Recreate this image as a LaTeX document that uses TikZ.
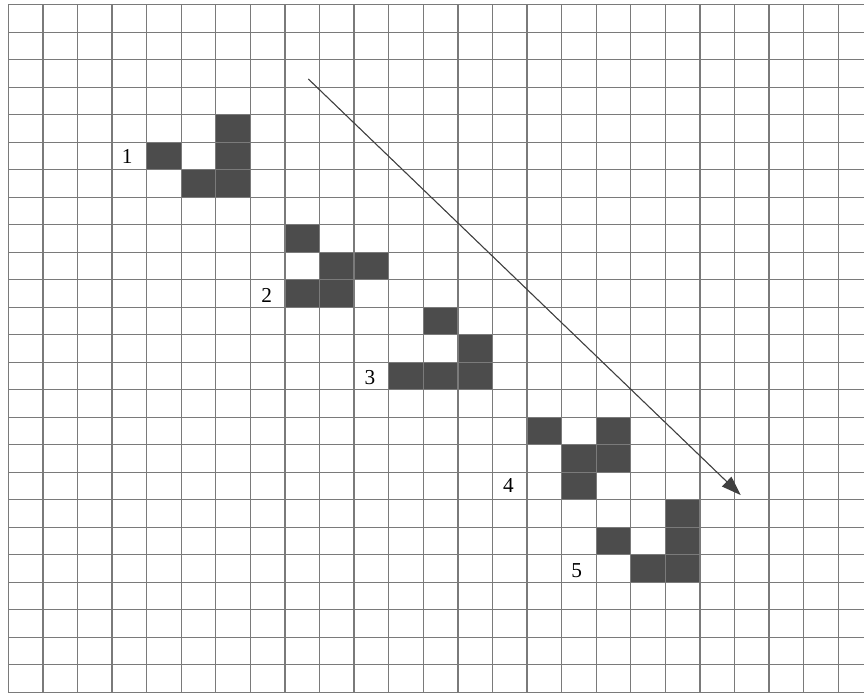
\documentclass[tikz,border=0pt]{standalone}
\usepackage{fontspec}
\setmainfont{Liberation Serif}
\usepackage{tikz}
\usetikzlibrary{arrows.meta}

\begin{document}
\begin{tikzpicture}[x=1cm, y=-0.7953cm,
    gridline/.style={line width=1.1pt, draw=black!52},
    alive/.style={fill=black!70},
    lbl/.style={font=\fontsize{17.5}{17.5}\selectfont, inner sep=0pt},
    arr/.style={-{Triangle[length=16pt, width=11pt]}, line width=0.9pt, draw=black!75, fill=black!75}
  ]
    \clip (-0.24,-0.171) rectangle (24.745,24.993);
    % live cells of the five generations
    \foreach \c/\r in {4/5,6/4,6/5,5/6,6/6,
                       8/8,9/9,10/9,8/10,9/10,
                       12/11,13/12,11/13,12/13,13/13,
                       15/15,17/15,16/16,17/16,16/17,
                       19/18,17/19,19/19,18/20,19/20}
      \fill[alive] (\c,\r) rectangle ++(1,1);
    % grid
    \foreach \i in {0,...,24} \draw[gridline] (\i,0) -- (\i,25.3);
    \foreach \j in {0,...,25} \draw[gridline] (0,\j) -- (25,\j);
    % generation numbers
    \foreach \n/\x/\y in {1/3.44/5.53, 2/7.47/10.56, 3/10.46/13.54, 4/14.46/17.5, 5/16.44/20.56}
      \node[lbl] (gen\n) at (\x,\y) {\n};
    \coordinate (dstart) at (8.675,2.70);
    \coordinate (dend) at (21.18,17.83);
    \draw[arr] (dstart) -- (dend);
\end{tikzpicture}
\end{document}
